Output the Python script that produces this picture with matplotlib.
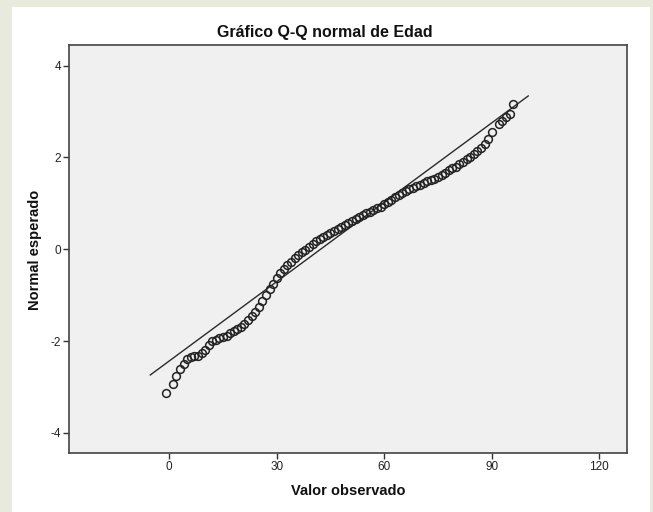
import matplotlib
matplotlib.use("Agg")
import matplotlib.pyplot as plt
from matplotlib.patches import Rectangle

# ---- data ----
edad = [-1, 1, 2, 3, 4, 5, 6, 7, 8, 9, 10, 11, 12, 13, 14, 15, 16, 17, 18, 19,
        20, 21, 22, 23, 24, 25, 26, 27, 28, 29, 30, 31, 32, 33, 34, 35, 36, 37, 38, 39,
        40, 41, 42, 43, 44, 45, 46, 47, 48, 49, 50, 51, 52, 53, 54, 55, 56, 57, 58, 59,
        60, 61, 62, 63, 64, 65, 66, 67, 68, 69, 70, 71, 72, 73, 74, 75, 76, 77, 78, 79,
        80, 81, 82, 83, 84, 85, 86, 87, 88, 89, 90, 92, 93, 94, 95, 96]
normal_esperado = [-3.14, -2.94, -2.76, -2.62, -2.49, -2.39, -2.34, -2.33, -2.32, -2.26,
                   -2.19, -2.09, -2.01, -1.97, -1.94, -1.91, -1.88, -1.83, -1.78, -1.74,
                   -1.69, -1.63, -1.55, -1.46, -1.37, -1.26, -1.12, -0.99, -0.87, -0.75,
                   -0.63, -0.52, -0.43, -0.35, -0.27, -0.20, -0.13, -0.07, -0.01, 0.05,
                   0.11, 0.17, 0.22, 0.27, 0.32, 0.36, 0.40, 0.44, 0.48, 0.52,
                   0.57, 0.62, 0.66, 0.70, 0.74, 0.78, 0.81, 0.85, 0.89, 0.93,
                   0.98, 1.03, 1.08, 1.13, 1.18, 1.23, 1.27, 1.31, 1.34, 1.37,
                   1.40, 1.44, 1.48, 1.51, 1.54, 1.58, 1.62, 1.66, 1.72, 1.76,
                   1.80, 1.85, 1.90, 1.96, 2.02, 2.07, 2.13, 2.21, 2.30, 2.40,
                   2.55, 2.73, 2.80, 2.89, 2.95, 3.16]
linea_x = [-5.3, 100.2]
linea_y = [-2.74, 3.34]

x_ticks = [0, 30, 60, 90, 120]
y_ticks = [-4, -2, 0, 2, 4]

titulo = "Gráfico Q-Q normal de Edad"
x_label = "Valor observado"
y_label = "Normal esperado"

FAM = ['Liberation Sans', 'DejaVu Sans']

W, H = 653, 512
fig = plt.figure(figsize=(W / 100, H / 100), dpi=100)
fig.patch.set_facecolor('#e7eadc')
# white panel
fig.patches.append(Rectangle((12 / W, 0), (650 - 12) / W, (H - 7) / H,
                             transform=fig.transFigure, facecolor='white',
                             edgecolor='none', zorder=-10))

L, R, T, B = 69.3, 627.3, 45, 453
ax = fig.add_axes([L / W, 1 - B / H, (R - L) / W, (B - T) / H])
ax.set_zorder(1)
ax.set_facecolor('#f0f0f0')

ax.plot(linea_x, linea_y, color='#2a2a2a', lw=1.0, zorder=2)
ax.plot(edad, normal_esperado, linestyle='none', marker='o', ms=5.6,
        markerfacecolor='none', markeredgecolor='#222222', markeredgewidth=1.1,
        zorder=3)

ax.set_xlim(-27.9, 127.85)
ax.set_ylim(-4.44, 4.45)
ax.set_xticks(x_ticks)
ax.set_yticks(y_ticks)
ax.set_xticklabels([str(v) for v in x_ticks], family=FAM, fontsize=8.5, color='#222222')
ax.set_yticklabels([str(v) for v in y_ticks], family=FAM, fontsize=8.5, color='#222222')
ax.tick_params(direction='out', length=4, width=1, color='#333333', pad=2)

for s in ax.spines.values():
    s.set_color('#444444')
    s.set_linewidth(1.2)

fig.text(325 / W, 1 - 32 / H, titulo, ha='center', va='center',
         family=FAM, fontweight='bold', fontsize=11.5, color='#111111')
fig.text(348.5 / W, 1 - 491 / H, x_label, ha='center', va='center',
         family=FAM, fontweight='bold', fontsize=10.5, color='#111111')
fig.text(35.5 / W, 1 - 250 / H, y_label, ha='center', va='center', rotation=90,
         family=FAM, fontweight='bold', fontsize=10.5, color='#111111')

fig.savefig('out.png', dpi=100, facecolor=fig.get_facecolor())
